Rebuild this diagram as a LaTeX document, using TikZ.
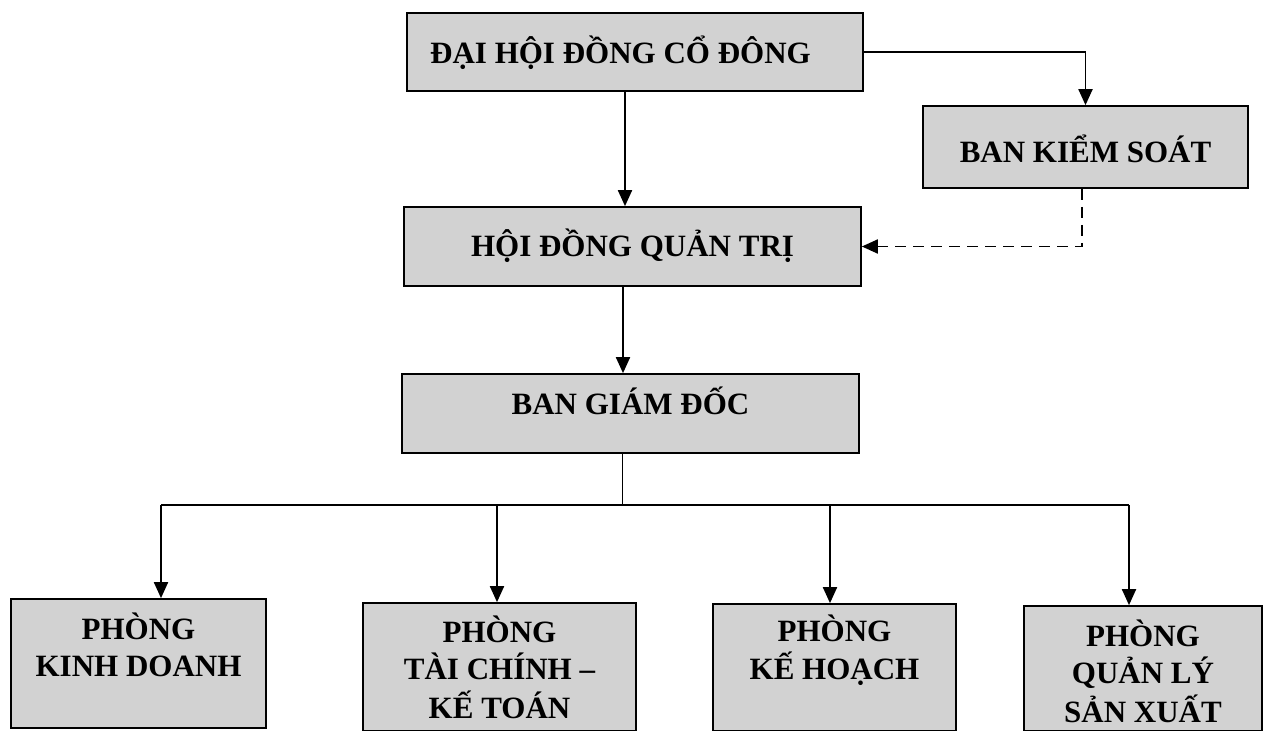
\documentclass[tikz,border=0pt]{standalone}
\usepackage{fontspec}
\setmainfont{Liberation Serif}
\usetikzlibrary{arrows.meta,calc}
\definecolor{boxgray}{HTML}{D2D2D2}
\tikzset{
  box/.style={draw=black, line width=1.7pt, fill=boxgray, inner sep=0pt},
  title/.style={font=\fontsize{31}{37}\selectfont\bfseries, text height=20.5pt, text depth=0pt},
  lbl/.style={font=\fontsize{31}{37}\selectfont\bfseries, inner sep=0pt, anchor=base},
  arr/.style={line width=1.9pt, -{Triangle[length=16pt,width=14pt]}},
  dasharr/.style={arr, dash pattern=on 11pt off 7pt},
  plain/.style={line width=1.9pt},
  stem/.style={line width=1pt}
}
\begin{document}
\begin{tikzpicture}[x=1pt,y=-1pt]
\useasboundingbox (0,0) rectangle (1267,731);

% top boxes
\node[box,minimum width=456pt,minimum height=78pt] (dhd) at (635,52) {};
\node[title,inner sep=0pt] (dhdt) at (620.5,53) {ĐẠI HỘI ĐỒNG CỔ ĐÔNG};
\node[box,title,text height=30.5pt,minimum width=325pt,minimum height=82pt] (bks) at (1085.5,147) {BAN KIỂM SOÁT};
\node[box,title,minimum width=457pt,minimum height=79pt] (hdqt) at (632.5,246.5) {HỘI ĐỒNG QUẢN TRỊ};
\node[box,title,text depth=18pt,minimum width=457pt,minimum height=79pt] (bgd) at (630.5,413.5) {BAN GIÁM ĐỐC};

% bottom boxes
\node[box,minimum width=255pt,minimum height=129pt] (pkd) at (138.5,663.5) {};
\node[box,minimum width=273pt,minimum height=128pt] (ptc) at (499.5,667) {};
\node[box,minimum width=243pt,minimum height=127pt] (pkh) at (834.5,667.5) {};
\node[box,minimum width=238pt,minimum height=125pt] (pql) at (1143,668.5) {};

\node[lbl] (pkdt) at (138.5,639) {\begin{tabular}[t]{@{}c@{}}PHÒNG\\KINH DOANH\end{tabular}};
\node[lbl] (ptct) at (499.5,642) {\begin{tabular}[t]{@{}c@{}}PHÒNG\\TÀI CHÍNH –\\KẾ TOÁN\end{tabular}};
\node[lbl] (pkht) at (834.5,641) {\begin{tabular}[t]{@{}c@{}}PHÒNG\\KẾ HOẠCH\end{tabular}};
\node[lbl] (pqlt) at (1143,646) {\begin{tabular}[t]{@{}c@{}}PHÒNG\\QUẢN LÝ\\SẢN XUẤT\end{tabular}};

% helper coordinates
\coordinate (c1) at (625,0);
\coordinate (c2) at (623,0);
\coordinate (c3) at (622,505);
\coordinate (c4) at (1082,0);
\coordinate (a1) at (161,505);
\coordinate (a2) at (497,505);
\coordinate (a3) at (830,505);
\coordinate (a4) at (1129,505);

% connectors
\draw[arr] (dhd.south -| c1) -- (hdqt.north -| c1);
\draw[arr] (dhd.east) -| (bks.north);
\draw[dasharr] (bks.south -| c4) |- (hdqt.east);
\draw[arr] (hdqt.south -| c2) -- (bgd.north -| c2);
\draw[stem] (bgd.south -| c3) -- (c3);
\draw[plain] (a1) -- (a4);
\draw[arr] (a1) -- (a1 |- pkd.north);
\draw[arr] (a2) -- (a2 |- ptc.north);
\draw[arr] (a3) -- (a3 |- pkh.north);
\draw[arr] (a4) -- (a4 |- pql.north);
\end{tikzpicture}
\end{document}
